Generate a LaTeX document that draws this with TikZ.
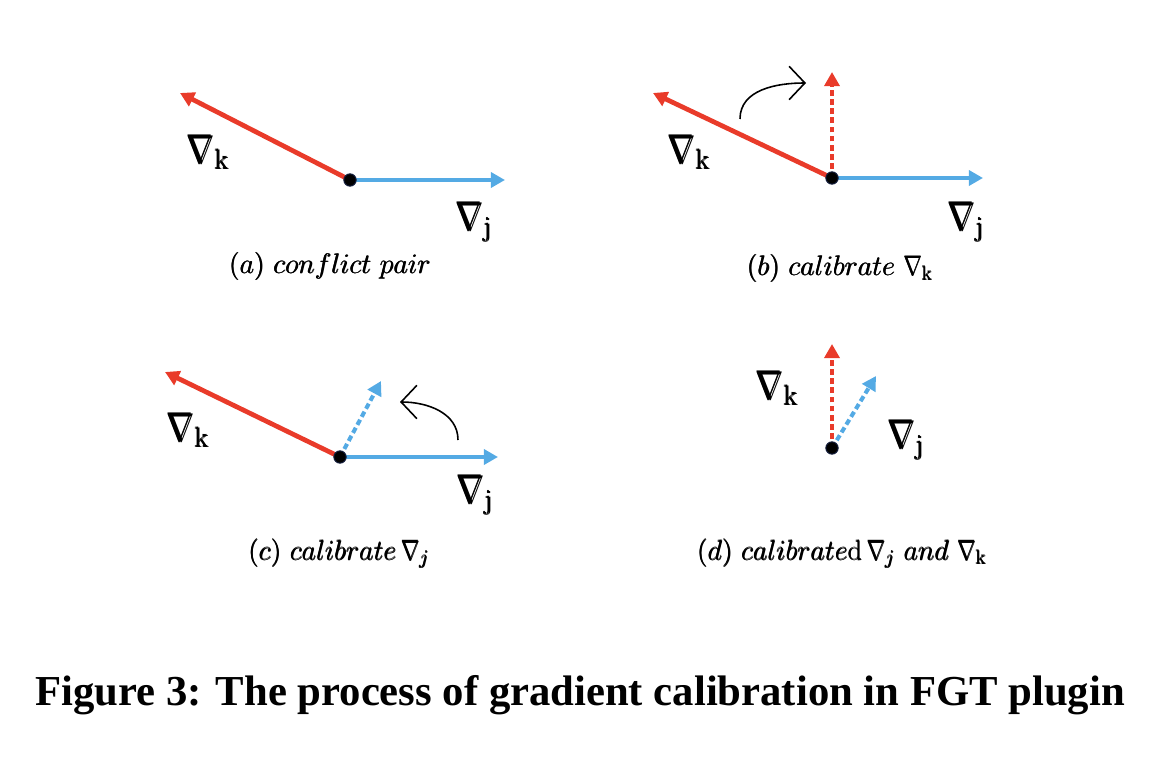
\RequirePackage{fix-cm}
\documentclass[tikz,border=0pt]{standalone}
\usepackage{amsmath}
\usepackage{graphicx}
\usepackage{fontspec}
\usetikzlibrary{arrows.meta}
\newfontfamily\capfont{Liberation Serif}
\definecolor{gred}{RGB}{233,59,42}
\definecolor{gblue}{RGB}{84,170,228}
\definecolor{dotblue}{RGB}{20,30,60}
\newcommand\narrownabla{\scalebox{0.78}[1]{$\nabla$}}
\newcommand\fatter[2]{\leavevmode\hbox{\rlap{#2}\rlap{\raisebox{#1}{#2}}\kern#1\relax#2}}
\newcommand\gradlab[1]{\fatter{0.7pt}{\narrownabla\kern0.6pt\raisebox{-3.6pt}{\fontsize{16}{18}\selectfont #1}}}
\tikzset{
  gradr/.style={gred, line width=2.7pt, -{Triangle[length=8pt,width=8.5pt]}},
  gradb/.style={gblue, line width=2.4pt, -{Triangle[length=8pt,width=8.5pt]}},
  dotr/.style={gred, line width=2.3pt, dash pattern=on 3.3pt off 1.9pt, -{Triangle[length=8pt,width=8.5pt]}},
  dotb/.style={gblue, line width=2.3pt, dash pattern=on 3.3pt off 1.9pt, -{Triangle[length=8pt,width=8.5pt]}},
  origin/.style={circle, fill=black, draw=dotblue, line width=0.6pt, minimum size=7pt, inner sep=0pt},
  turn/.style={black, line width=0.9pt, -{Straight Barb[length=9pt,width=19pt,line width=0.9pt]}},
  lab/.style={inner sep=0pt, font=\fontsize{23}{27}\selectfont},
  subcap/.style={inner sep=0pt, anchor=base, font=\fontsize{16}{19}\selectfont},
  figcap/.style={inner sep=0pt, anchor=base, font=\capfont\bfseries\fontsize{24.3}{29}\selectfont}
}
\begin{document}
\begin{tikzpicture}[x=0.02cm,y=-0.02cm]
\path[use as bounding box] (0,0) rectangle (1157,770);

% ---------- (a)
\coordinate (oa) at (350,180);
\coordinate (ka) at (180,93);
\coordinate (ja) at (505,180);
\draw[gradr] (oa) -- (ka);
\draw[gradb] (oa) -- (ja);
\node[origin] (doa) at (oa) {};
\node[lab] (lka) at (208,152) {\gradlab{k}};
\node[lab] (lja) at (474,222) {\gradlab{j}};
\node[subcap] (capa) at (330,274) {\fatter{0.35pt}{$(a)\ conflict\ pair$}};

% ---------- (b)
\coordinate (ob) at (832,178);
\coordinate (kb) at (653,93);
\coordinate (jb) at (983,178);
\coordinate (kbn) at (832,72);
\draw[gradr] (ob) -- (kb);
\draw[gradb] (ob) -- (jb);
\draw[dotr] (ob) -- (kbn);
\node[origin] (dob) at (ob) {};
\coordinate (tbs) at (740,119);
\coordinate (tbe) at (806,83);
\draw[turn] (tbs) to[out=90,in=180] (tbe);
\node[lab] (lkb) at (689,152) {\gradlab{k}};
\node[lab] (ljb) at (966,222) {\gradlab{j}};
\node[subcap] (capb) at (840,276) {\fatter{0.35pt}{$(b)\ calibrate\ \narrownabla_{\mathrm{k}}$}};

% ---------- (c)
\coordinate (oc) at (340,457);
\coordinate (kc) at (165,372);
\coordinate (jc) at (498,457);
\coordinate (jcn) at (381,381);
\draw[gradr] (oc) -- (kc);
\draw[gradb] (oc) -- (jc);
\draw[dotb] (oc) -- (jcn);
\node[origin] (doc) at (oc) {};
\coordinate (tcs) at (458,440);
\coordinate (tce) at (400,402);
\draw[turn] (tcs) to[out=90,in=0] (tce);
\node[lab] (lkc) at (188,430) {\gradlab{k}};
\node[lab] (ljc) at (475,495) {\gradlab{j}};
\node[subcap] (capc) at (339,560) {\fatter{0.35pt}{$(c)\ calibrate\,\narrownabla_j$}};

% ---------- (d)
\coordinate (od) at (832,448);
\coordinate (kd) at (832,344);
\coordinate (jd) at (876,376);
\draw[dotr] (od) -- (kd);
\draw[dotb] (od) -- (jd);
\node[origin] (dod) at (od) {};
\node[lab] (lkd) at (777,388) {\gradlab{k}};
\node[lab] (ljd) at (906,440) {\gradlab{j}};
\node[subcap] (capd) at (842,560) {\fatter{0.35pt}{$(d)\ calibrate\mathrm{d}\,\narrownabla_j\ and\ \narrownabla_{\mathrm{k}}$}};

% ---------- figure caption
\node[figcap] (title) at (580,705) {Figure 3: The process of gradient calibration in FGT plugin};
\end{tikzpicture}
\end{document}
